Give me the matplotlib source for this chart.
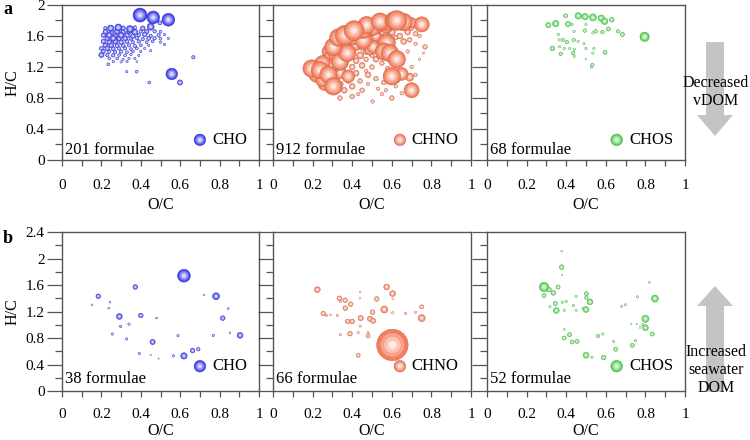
import numpy as np
import matplotlib
matplotlib.use("Agg")
import matplotlib.pyplot as plt
from matplotlib.colors import to_rgb
from matplotlib.patches import Polygon

plt.rcParams['font.family'] = ['Liberation Serif', 'DejaVu Serif']

# ---------------- data: (O/C, H/C, relative intensity) ----------------
# panel a  (decreased vDOM)
cho_a_x = [0.396,0.463,0.540,0.557,0.450,0.286,0.247,0.345,0.599,0.200,0.497,0.667,0.443,0.235,0.379,0.329,
           0.22,0.31,0.37,0.41,
           0.22,0.25,0.28,0.31,0.34,0.37,0.40,0.43,0.47,0.50,
           0.21,0.24,0.27,0.30,0.33,0.36,0.39,0.42,0.45,0.49,0.52,
           0.23,0.26,0.29,0.32,0.35,0.38,0.41,0.44,0.47,0.50,0.54,
           0.21,0.24,0.27,0.30,0.33,0.36,0.39,0.43,0.46,0.50,
           0.22,0.25,0.28,0.31,0.34,0.37,0.40,0.44,0.52,
           0.20,0.23,0.26,0.29,0.32,0.35,0.38,0.42,
           0.21,0.24,0.27,0.30,0.33,0.36,0.40,0.45,
           0.23,0.26,0.29,0.32,0.35,0.39,
           0.24,0.28,0.31,0.34,0.37,
           0.26,0.30,0.33,0.38]
cho_a_y = [1.87,1.84,1.81,1.11,1.72,1.71,1.70,1.69,1.00,1.355,1.77,1.325,1.00,1.235,1.14,1.14,
           1.70,1.70,1.71,1.70,
           1.655,1.65,1.66,1.65,1.655,1.65,1.66,1.655,1.66,1.655,
           1.61,1.61,1.60,1.61,1.61,1.60,1.61,1.62,1.60,1.61,1.62,
           1.57,1.57,1.565,1.57,1.57,1.575,1.56,1.57,1.57,1.565,1.57,
           1.53,1.52,1.53,1.52,1.53,1.52,1.53,1.52,1.53,1.52,
           1.48,1.48,1.475,1.48,1.48,1.47,1.48,1.48,1.49,
           1.44,1.44,1.435,1.44,1.44,1.43,1.44,1.44,
           1.40,1.40,1.395,1.40,1.39,1.40,1.40,1.41,
           1.355,1.35,1.355,1.35,1.36,1.35,
           1.31,1.31,1.30,1.31,1.31,
           1.27,1.265,1.27,1.27]
cho_a_v = [12,11,11,10,6,6,5.5,6,4.5,4.5,3.5,3,2.5,2.5,2.5,2,
           3,4,3,4,
           4,4,5,4,4,5,3,4,3,2.5,
           4,5,4,5,4,4,3,4,3,3,2,
           4,5,4,4,3.5,3,3,3.5,3,2.5,2,
           4,4,4.5,4,3.5,3,3,2.5,2.5,2,
           4,4,3.5,3.5,3,3,2.5,2,2,
           3.5,4,3.5,3,3,2.5,2.5,2,
           3.5,3,3,3,2.5,2.5,2,2,
           3,3,2.5,2.5,2,2,
           2.5,2.5,2,2,2,
           2,2,2,1.5]

chno_a_x = [0.195,0.237,0.22,0.253,0.28,0.305,0.26,0.338,0.338,0.30,0.27,0.375,0.305,0.28,0.33,0.364,0.409,
            0.35,0.372,0.414,0.456,0.456,0.473,0.507,0.49,0.527,0.54,0.574,0.61,0.625,0.66,0.574,0.56,
            0.59,0.625,0.60,0.65,0.69,0.70,0.751,0.38,
            0.25,0.32,0.40,0.43,0.50,0.36,0.29,0.23,0.58,0.52,0.70,
            0.69,0.768,0.72,0.66,0.70,0.68,0.64,0.60,0.53,0.50,0.47,0.44,0.42,0.45,0.50,0.52,0.48,
            0.44,0.40,0.36,0.338,0.40,0.45,0.503,0.55,0.60,0.65,0.62,0.56,0.52,0.48,0.42,0.40,0.36,
            0.40,0.45,0.50,0.55,0.58,0.65,0.68,0.72,0.74,0.66,0.70,0.72,0.53,0.50,0.55,0.58,0.62,
            0.47,0.43,0.38,0.34,0.32,0.31,0.28,0.47,0.53,0.57,0.63,0.74,0.76]
chno_a_y = [1.18,1.16,1.10,1.04,1.10,0.95,0.98,1.13,1.27,1.22,1.28,1.38,1.46,1.40,1.58,1.61,1.67,
            1.50,1.49,1.49,1.55,1.68,1.74,1.46,1.42,1.72,1.785,1.72,1.80,1.80,1.78,1.51,1.40,
            1.38,1.30,1.08,1.11,1.07,0.90,1.75,1.08,
            1.25,1.35,1.58,1.62,1.70,1.44,1.33,1.22,1.77,1.60,1.77,
            1.55,1.46,1.63,1.53,1.70,1.65,1.60,1.65,1.60,1.62,1.40,1.35,1.28,1.22,1.20,1.30,1.10,
            1.02,0.95,0.90,0.80,0.82,0.90,0.755,0.85,0.80,0.86,0.95,1.00,1.05,0.98,1.12,1.20,1.25,
            1.40,1.45,1.35,1.25,1.18,1.25,1.40,1.50,1.60,1.70,1.20,1.10,1.50,1.55,1.65,1.60,1.58,
            1.30,0.85,1.02,0.98,1.05,0.88,0.90,1.15,0.92,0.90,1.02,1.30,1.38]
chno_a_v = [15,15,13,13,15,15,11,11,15,13,11,15,15,11,15,17,17,
            11,11,11,15,15,15,11,9,11,15,11,15,17,15,15,15,
            15,15,15,11,7,13,13,11,
            13,13,13,11,13,13,11,11,13,9,9,
            4,4,4,5,4,5,5,6,6,6,5,6,5,5,4,5,5,
            4,5,5,4,4,4,3,3,4,3,3,4,4,3,5,5,6,
            6,5,4,4,4,3,3,3,3,4,3,3,4,5,5,5,4,
            4,3,4,5,6,4,4,3,3,3,3,2,2]

chos_a_x = [0.796,0.31,0.347,0.397,0.461,0.495,0.535,0.577,0.594,0.63,0.409,0.43,0.50,0.613,0.662,0.684,
            0.549,0.583,0.494,0.44,0.36,0.364,0.384,0.404,0.438,0.46,0.49,0.535,0.33,0.367,0.39,0.418,
            0.44,0.372,0.435,0.44,0.50,0.54,0.535,0.596,0.50,0.532,0.529]
chos_a_y = [1.59,1.74,1.76,1.86,1.86,1.85,1.84,1.83,1.79,1.81,1.755,1.75,1.75,1.69,1.66,1.62,
            1.66,1.65,1.67,1.66,1.62,1.55,1.55,1.52,1.55,1.53,1.50,1.64,1.44,1.46,1.44,1.44,
            1.43,1.37,1.38,1.34,1.44,1.44,1.38,1.39,1.30,1.225,1.20]
chos_a_v = [8,4.5,5.5,3.5,5.5,5.5,6,5.5,5.5,4,4.5,2,2,3.5,3,3.5,
            3,3,3,2,2,2,3,3,3,2,2,2,4,2,2,2,
            2,3,3,2,2,2,2,3.5,1.5,3,2]

# panel b  (increased seawater DOM)
cho_b_x = [0.619,0.184,0.372,0.782,0.816,0.291,0.40,0.34,0.298,0.255,0.328,0.46,0.589,0.768,0.619,0.663,
           0.692,0.565,0.392,0.244,0.237,0.152,0.48,0.844,0.853,0.904,0.72,0.49,0.45]
cho_b_y = [1.74,1.43,1.57,1.43,1.10,1.125,1.14,1.01,0.975,0.86,0.785,0.74,0.835,0.84,0.53,0.61,
           0.63,0.53,0.565,1.34,1.25,1.30,1.10,1.245,0.88,0.84,1.45,0.49,0.54]
cho_b_v = [11,4,4,6,4,5,4,2,2,2,2,4.5,2,2,5.5,4,
           3,2,2,1.5,1.5,1.5,1.5,1.5,1.5,5,1,1,1]

chno_b_x = [0.603,0.224,0.574,0.604,0.335,0.364,0.34,0.392,0.365,0.524,0.562,0.605,0.503,0.254,0.27,0.325,
            0.443,0.49,0.506,0.377,0.40,0.44,0.389,0.43,0.48,0.48,0.34,0.43,0.751,0.751,0.67,0.72,
            0.44,0.44,0.29,0.605]
chno_b_y = [0.695,1.53,1.57,1.47,1.40,1.37,1.35,1.31,1.25,1.39,1.23,1.18,1.19,1.17,1.14,1.14,
            1.10,1.09,1.06,1.05,1.05,0.98,0.865,0.88,0.83,0.88,0.85,0.54,1.10,1.27,1.17,1.19,
            1.49,1.40,1.15,1.39]
chno_b_v = [27,5,5,5,4,4,2,4,4,4,6,2,4,4,2,2,
            4.5,4.5,4.5,4,4,2,4,2,3.5,2,2,3.5,6,3.5,2,2,
            1.5,1.5,1.5,1.5]

chos_b_x = [0.288,0.313,0.335,0.288,0.359,0.377,0.377,0.379,0.345,0.318,0.35,0.38,0.40,0.39,0.437,0.45,
            0.45,0.502,0.502,0.52,0.50,0.485,0.39,0.39,0.417,0.43,0.455,0.50,0.53,0.589,0.56,0.585,
            0.64,0.65,0.68,0.70,0.734,0.75,0.76,0.80,0.80,0.787,0.835,0.728,0.757,0.773,0.82,0.848]
chos_b_y = [1.57,1.53,1.48,1.44,1.57,1.87,2.11,1.75,1.32,1.27,1.215,1.34,1.35,1.22,1.29,1.43,
            1.22,1.47,1.41,1.345,1.23,1.25,0.93,0.80,0.85,0.74,0.75,0.54,0.51,0.505,0.83,0.86,
            0.75,0.63,1.28,1.30,0.69,0.76,1.42,1.09,0.955,1.00,0.86,1.01,1.01,0.96,1.64,1.395]
chos_b_v = [8,4,4,3.5,3.5,4,1.5,1.5,3.5,2,5,2,2,2,2,2,
            2,3.5,3,5,5,2,1.5,3.5,3.5,3.5,3.5,5,2,4,3,2,
            2,3.5,2,2,3.5,2,2,6,5,2,3.5,1.5,1.5,1.5,1.5,6]

class_names = ["CHO", "CHNO", "CHOS"]
class_colors = ["#3e3ef0", "#f47e5c", "#55d255"]
counts_a = [201, 912, 68]
counts_b = [38, 66, 52]

x_ticks = [0, 0.2, 0.4, 0.6, 0.8, 1]
x_tick_labels = ["0", "0.2", "0.4", "0.6", "0.8", "1"]
y_ticks_a = [0, 0.4, 0.8, 1.2, 1.6, 2]
y_tick_labels_a = ["0", "0.4", "0.8", "1.2", "1.6", "2"]
y_ticks_b = [0, 0.4, 0.8, 1.2, 1.6, 2, 2.4]
y_tick_labels_b = ["0", "0.4", "0.8", "1.2", "1.6", "2", "2.4"]

# ---------------- drawing ----------------
W, H = 750, 440
fig = plt.figure(figsize=(7.5, 4.4), dpi=100)

LAYERS = [(1.0, 0.0), (0.74, 0.28), (0.5, 0.55), (0.26, 0.82)]
SCALE = 0.84  # intensity -> marker diameter (points)


def mix(c, t):
    r = np.array(to_rgb(c))
    if t >= 0:
        return tuple(r * (1 - t) + t)
    return tuple(r * (1 + t))


def bubbles(ax, xs, ys, vs, color, transform=None):
    order = np.argsort(np.asarray(vs), kind="stable")
    X, Y, S, C, E = [], [], [], [], []
    for i in order:
        for f, t in LAYERS:
            X.append(xs[i]); Y.append(ys[i])
            S.append((vs[i] * SCALE * f) ** 2)
            C.append(mix(color, t))
            E.append(mix(color, -0.25) if f == 1.0 else mix(color, t))
    kw = {}
    if transform is not None:
        kw["transform"] = transform
        kw["clip_on"] = False
    ax.scatter(X, Y, s=S, c=C, edgecolors=E, linewidths=0.3, zorder=3, **kw)


def px_ax(l, b, r, t):
    return fig.add_axes([l / W, 1 - b / H, (r - l) / W, (b - t) / H])


cols = [(62, 259), (273, 471), (487, 685)]
rows = [dict(top=5, bot=160, yt=y_ticks_a, yl=y_tick_labels_a, ymax=2.0,
             data=[(cho_a_x, cho_a_y, cho_a_v), (chno_a_x, chno_a_y, chno_a_v), (chos_a_x, chos_a_y, chos_a_v)],
             counts=counts_a, leg_y=0.13, cnt_y=0.065, pad=9, lpad=4),
        dict(top=232, bot=391, yt=y_ticks_b, yl=y_tick_labels_b, ymax=2.4,
             data=[(cho_b_x, cho_b_y, cho_b_v), (chno_b_x, chno_b_y, chno_b_v), (chos_b_x, chos_b_y, chos_b_v)],
             counts=counts_b, leg_y=0.156, cnt_y=0.075, pad=8, lpad=1.5)]
leg_pos = [(0.70, 0.765), (0.641, 0.70), (0.655, 0.72)]

for r, row in enumerate(rows):
    for c in range(3):
        l, rr = cols[c]
        ax = px_ax(l, row["bot"], rr, row["top"])
        ax.set_xlim(0, 1)
        ax.set_ylim(0, row["ymax"])
        for sp in ax.spines.values():
            sp.set_color("#555555"); sp.set_linewidth(1.0)
        ax.set_xticks(x_ticks)
        ax.set_xticklabels(x_tick_labels)
        ax.set_xticks(np.arange(0.1, 1.0, 0.2), minor=True)
        ax.set_yticks(row["yt"])
        ax.set_yticks(np.arange(0.2, row["ymax"], 0.4), minor=True)
        if c == 0:
            ax.set_yticklabels(row["yl"])
            ax.set_ylabel("H/C", fontsize=11.5)
            ax.yaxis.set_label_coords(-0.21, 0.5)
        else:
            ax.set_yticklabels([])
        ax.tick_params(axis="x", which="both", direction="out", length=4.5, width=0.9,
                       color="#555555", pad=row["pad"], labelsize=11)
        ax.tick_params(axis="y", which="major", direction="out", length=11, width=0.9,
                       color="#555555", pad=1.5, labelsize=11)
        ax.tick_params(axis="y", which="minor", direction="out", length=5, width=0.9,
                       color="#555555")
        ax.set_xlabel("O/C", fontsize=11.5, labelpad=row["lpad"])
        xs, ys, vs = row["data"][c]
        bubbles(ax, xs, ys, vs, class_colors[c])
        # legend-like marker + label
        mx, tx = leg_pos[c]
        bubbles(ax, [mx], [row["leg_y"]], [10], class_colors[c], transform=ax.transAxes)
        ax.text(tx, row["leg_y"], class_names[c], transform=ax.transAxes, fontsize=12,
                va="center", ha="left")
        ax.text(0.015, row["cnt_y"], f"{row['counts'][c]} formulae", transform=ax.transAxes,
                fontsize=12, va="center", ha="left")

# panel letters
fig.text(3 / W, 1 - 9 / H, "a", fontsize=13, fontweight="bold", va="center", ha="left")
fig.text(3 / W, 1 - 238 / H, "b", fontsize=13, fontweight="bold", va="center", ha="left")


# side arrows
def fx(x):
    return x / W


def fy(y):
    return 1 - y / H


gray = "#c4c4c4"
down = [(706, 42), (724, 42), (724, 115), (733, 115), (715, 136), (697, 115), (706, 115)]
fig.patches.append(Polygon([(fx(a), fy(b)) for a, b in down], closed=True, transform=fig.transFigure,
                           facecolor=gray, edgecolor="none"))
up = [(706, 392), (724, 392), (724, 306), (733, 306), (715, 286), (697, 306), (706, 306)]
fig.patches.append(Polygon([(fx(a), fy(b)) for a, b in up], closed=True, transform=fig.transFigure,
                           facecolor=gray, edgecolor="none"))
fig.text(fx(716), fy(83), "Decreased", fontsize=11.5, ha="center", va="center")
fig.text(fx(716), fy(101), "vDOM", fontsize=11.5, ha="center", va="center")
fig.text(fx(716), fy(352), "Increased", fontsize=11.5, ha="center", va="center")
fig.text(fx(716), fy(370), "seawater", fontsize=11.5, ha="center", va="center")
fig.text(fx(716), fy(388), "DOM", fontsize=11.5, ha="center", va="center")

fig.savefig("out.png", dpi=100)
